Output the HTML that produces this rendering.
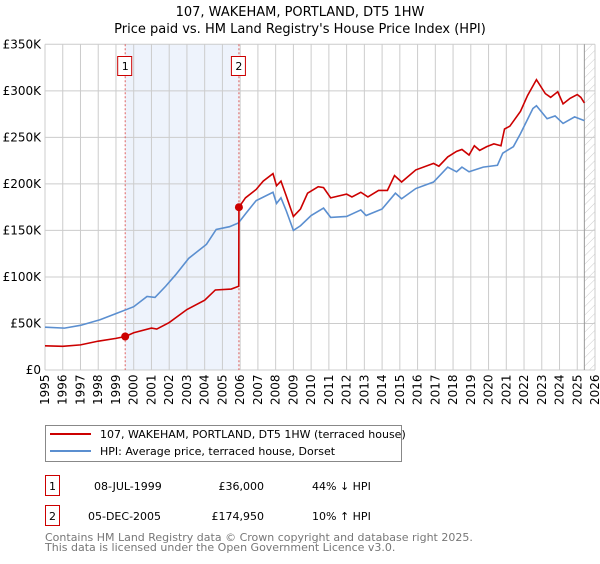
<!DOCTYPE html>
<html><head><meta charset="utf-8"><style>
body{margin:0;background:#fff;font-family:"DejaVu Sans","Liberation Sans",sans-serif;}
svg text{font-family:"DejaVu Sans","Liberation Sans",sans-serif;}
</style></head><body>
<svg id="c" width="600" height="560" viewBox="0 0 600 560" xmlns="http://www.w3.org/2000/svg">
<defs><pattern id="hatch" width="6" height="6" patternUnits="userSpaceOnUse" patternTransform="rotate(45)"><line x1="0" y1="0" x2="0" y2="6" stroke="#ccc" stroke-width="1"/></pattern></defs>
<text x="300" y="16" text-anchor="middle" font-size="13" fill="#000">107, WAKEHAM, PORTLAND, DT5 1HW</text>
<text x="300" y="33" text-anchor="middle" font-size="13" fill="#000">Price paid vs. HM Land Registry's House Price Index (HPI)</text>
<g id="plot"></g>
<g>
<rect x="45.5" y="425.5" width="356" height="36" fill="#fff" stroke="#888"/>
<line x1="50" y1="434" x2="91" y2="434" stroke="#cc0000" stroke-width="2"/>
<text x="100" y="438" font-size="11">107, WAKEHAM, PORTLAND, DT5 1HW (terraced house)</text>
<line x1="50" y1="451" x2="91" y2="451" stroke="#5b8fd0" stroke-width="2"/>
<text x="100" y="455" font-size="11">HPI: Average price, terraced house, Dorset</text>
</g>
<g font-size="11">
<rect x="45.5" y="475.5" width="14" height="20" fill="#fff" stroke="#cc0000"/><text x="52.5" y="490" text-anchor="middle">1</text>
<text x="94" y="490">08-JUL-1999</text><text x="264" y="490" text-anchor="end">£36,000</text><text x="312" y="490">44% ↓ HPI</text>
<rect x="45.5" y="505.5" width="14" height="20" fill="#fff" stroke="#cc0000"/><text x="52.5" y="520" text-anchor="middle">2</text>
<text x="88" y="520">05-DEC-2005</text><text x="264" y="520" text-anchor="end">£174,950</text><text x="312" y="520">10% ↑ HPI</text>
</g>
<text x="45" y="541" font-size="11" fill="#777">Contains HM Land Registry data © Crown copyright and database right 2025.</text>
<text x="45" y="551" font-size="11" fill="#777">This data is licensed under the Open Government Licence v3.0.</text>
</svg>
<script>
const hpiYears=[1995,1996.1,1997,1998.1,1999.05,2000,2000.75,2001.2,2001.8,2002.35,2003.1,2004.1,2004.65,2005.4,2005.9,2006.35,2006.9,2007.85,2008.05,2008.3,2008.6,2009.0,2009.4,2010.0,2010.7,2011.1,2012.0,2012.8,2013.1,2014.0,2014.75,2015.1,2015.9,2016.9,2017.7,2018.2,2018.5,2018.9,2019.7,2020.5,2020.8,2021.4,2021.8,2022.5,2022.7,2023.3,2023.75,2024.2,2024.85,2025.4];
const hpiValues=[46,45,48,54,61,68,79,78,90,102,120,135,151,154,158,169,182,191,179,185,171,150,155,166,174,164,165,172,166,173,190,184,195,202,218,213,218,213,218,220,233,240,254,281,284,270,273,265,272,268];
const priceYears=[1995,1996,1997,1998,1999,1999.52,2000,2001,2001.3,2002,2003,2004,2004.6,2005.5,2005.92,2005.93,2006.3,2006.9,2007.3,2007.85,2008.05,2008.3,2008.6,2009.0,2009.4,2009.8,2010.4,2010.7,2011.1,2012.0,2012.3,2012.8,2013.2,2013.8,2014.3,2014.7,2015.1,2015.9,2016.9,2017.2,2017.7,2018.2,2018.5,2018.9,2019.2,2019.5,2019.9,2020.3,2020.7,2020.9,2021.2,2021.8,2022.2,2022.7,2023.2,2023.5,2023.9,2024.2,2024.6,2025.0,2025.2,2025.4];
const priceValues=[26,25.5,27,31,34,36,40,45,44,51,65,75,86,87,90,174.95,185,194,203,211,198,203,187,165,173,190,197,196,185,189,186,191,186,193,193,209,202,215,222,219,229,235,237,231,241,236,240,243,241,259,262,278,295,312,297,293,299,286,292,296,293,287];
const saleYears=[1999.52,2005.93];
const saleValues=[36,174.95];
const saleLabels=['1','2'];
const yTicks=[0,50,100,150,200,250,300,350];
const yTickLabels=['£0','£50K','£100K','£150K','£200K','£250K','£300K','£350K'];
const xTicks=[1995,1996,1997,1998,1999,2000,2001,2002,2003,2004,2005,2006,2007,2008,2009,2010,2011,2012,2013,2014,2015,2016,2017,2018,2019,2020,2021,2022,2023,2024,2025,2026];
const dataEnd=2025.4;

const X0=45,X1=595,Y0=370,Y1=44.3;
const xs=y=>X0+(y-1995)/(2026-1995)*(X1-X0);
const ys=v=>Y0-(v/350)*(Y0-Y1);
const NS='http://www.w3.org/2000/svg';
const g=document.getElementById('plot');
function mk(t,a){const e=document.createElementNS(NS,t);for(const k in a)e.setAttribute(k,a[k]);g.appendChild(e);return e;}

const sh=mk('rect',{x:xs(saleYears[0]),y:Y1,width:xs(saleYears[1])-xs(saleYears[0]),height:Y0-Y1,fill:'#eef3fc'});


const ht=mk('rect',{x:xs(dataEnd),y:Y1,width:X1-xs(dataEnd),height:Y0-Y1,fill:'url(#hatch)'});



yTicks.forEach((v,i)=>{
  const l=mk('line',{x1:X0,x2:X1,y1:ys(v),y2:ys(v),stroke:'#ccc','stroke-width':1});
  
  
  const t=mk('text',{x:X0-4,y:ys(v)+4,'text-anchor':'end','font-size':12,fill:'#000'});
  t.textContent=yTickLabels[i];
  
  
});
xTicks.forEach(yr=>{
  const l=mk('line',{x1:xs(yr),x2:xs(yr),y1:Y1,y2:Y0,stroke:'#ccc','stroke-width':1});
  
  
  const t=mk('text',{x:0,y:0,'font-size':12,fill:'#000',transform:`translate(${xs(yr)+4},${Y0+35}) rotate(-90)`});
  t.textContent=yr;
  
  
});
const el=mk('line',{x1:xs(dataEnd),x2:xs(dataEnd),y1:Y1,y2:Y0,stroke:'#999','stroke-width':1});



saleYears.forEach((yr,i)=>{
  const l=mk('line',{x1:xs(yr),x2:xs(yr),y1:Y1,y2:Y0,stroke:'#e06060','stroke-width':1,'stroke-dasharray':'2,2'});
  
  
  const r=mk('rect',{x:xs(yr)-7.5,y:56.5,width:14,height:19,fill:'#fff',stroke:'#cc0000'});
  
  
  const t=mk('text',{x:xs(yr),y:70,'text-anchor':'middle','font-size':11});
  t.textContent=saleLabels[i];
  
  
});

const hp=mk('polyline',{points:hpiYears.map((y,i)=>xs(y)+','+ys(hpiValues[i])).join(' '),fill:'none',stroke:'#5b8fd0','stroke-width':1.6});


const pp=mk('polyline',{points:priceYears.map((y,i)=>xs(y)+','+ys(priceValues[i])).join(' '),fill:'none',stroke:'#cc0000','stroke-width':1.6});


saleYears.forEach((yr,i)=>{
  const c=mk('circle',{cx:xs(yr),cy:ys(saleValues[i]),r:4,fill:'#cc0000'});
  
  
});
</script>
</body></html>
